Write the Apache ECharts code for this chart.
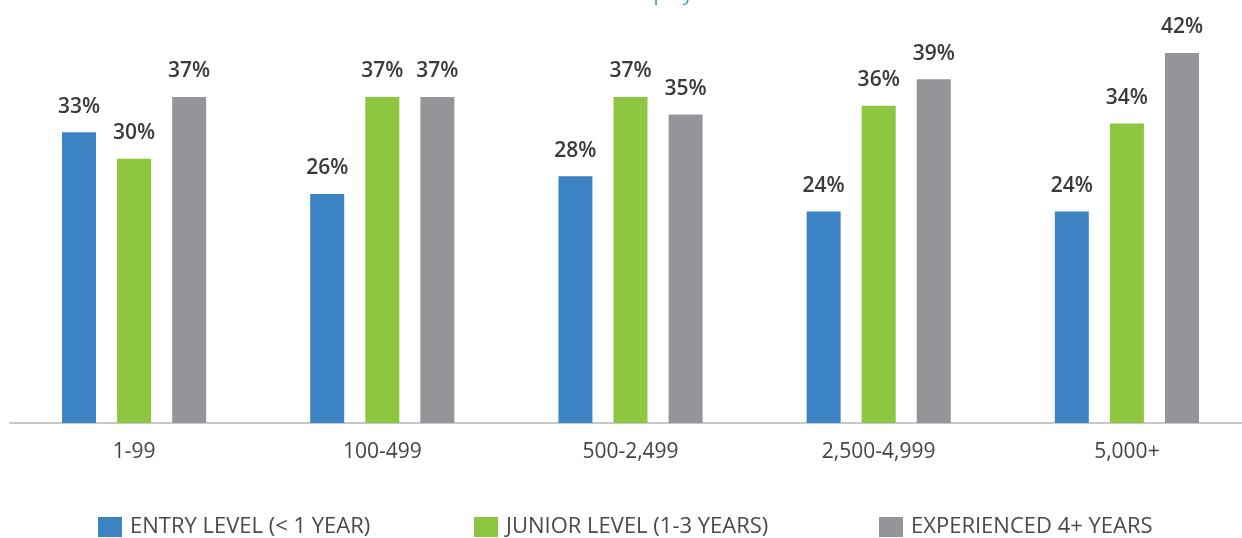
<!DOCTYPE html>
<html>
<head>
<meta charset="utf-8">
<script src="https://cdn.jsdelivr.net/npm/echarts@6/dist/echarts.min.js"></script>
<style>
  html, body { margin: 0; padding: 0; background: #ffffff; }
  #chart { width: 1242px; height: 538px; }
</style>
</head>
<body>
<div id="chart"></div>
<script>
// Company size buckets (number of employees)
const categories = ['1-99', '100-499', '500-2,499', '2,500-4,999', '5,000+'];

// Share of respondents by experience level, in percent
const seriesNames = ['ENTRY LEVEL (< 1 YEAR)', 'JUNIOR LEVEL (1-3 YEARS)', 'EXPERIENCED 4+ YEARS'];
const entryLevel = [33, 26, 28, 24, 24];
const juniorLevel = [30, 37, 37, 36, 34];
const experienced = [37, 37, 35, 39, 42];

const colors = ['#3b83c3', '#8dc63f', '#939598'];
const textFont = '"Open Sans", "Noto Sans", sans-serif';

const chart = echarts.init(document.getElementById('chart'), null, { renderer: 'canvas' });

const valueLists = [entryLevel, juniorLevel, experienced];

// one legend block per series so each entry sits in its own column
const legendLefts = [98, 474, 879];

chart.setOption({
  backgroundColor: '#ffffff',
  animation: false,
  title: {
    text: 'Number of employees',
    left: 'center',
    top: -16,
    padding: 0,
    textStyle: { color: '#2aa7a2', fontSize: 20, fontWeight: 'normal', fontFamily: textFont }
  },
  legend: seriesNames.map((name, i) => ({
    data: [name],
    left: legendLefts[i],
    top: 516,
    padding: 0,
    itemWidth: 24,
    itemHeight: 20,
    itemGap: 0,
    icon: 'rect',
    selectedMode: false,
    textStyle: { color: '#4a4a4a', fontSize: 22, fontFamily: textFont, padding: [0, 0, 0, 3] }
  })),
  grid: { left: 10, right: -9, top: 0, bottom: 115, outerBoundsMode: 'none' },
  xAxis: {
    type: 'category',
    data: categories,
    axisLine: { show: true, lineStyle: { color: '#c8c8c8', width: 2 } },
    axisTick: { show: false },
    axisLabel: { color: '#444444', fontSize: 21, margin: 19, fontFamily: textFont }
  },
  yAxis: {
    type: 'value',
    min: 0,
    max: 48,
    show: false,
    splitLine: { show: false }
  },
  series: seriesNames.map((name, i) => ({
    name: name,
    type: 'bar',
    data: valueLists[i],
    barWidth: 34,
    barGap: '62%',
    itemStyle: { color: colors[i] },
    label: {
      show: true,
      position: 'top',
      distance: 15,
      formatter: '{c}%',
      color: '#3a3a3a',
      fontSize: 21,
      fontWeight: 600,
      fontFamily: textFont
    }
  }))
});
</script>
</body>
</html>
